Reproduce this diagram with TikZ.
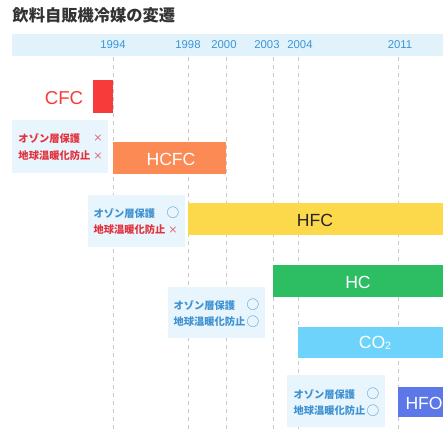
\documentclass[tikz,border=0pt]{standalone}
\usepackage{fontspec}
\setmainfont{Liberation Sans}
\newfontfamily\jpfont{Noto Sans CJK JP}

\definecolor{bandblue}{HTML}{E2F2FB}
\definecolor{boxblue}{HTML}{E8F5FC}
\definecolor{yearblue}{HTML}{3A96D6}
\definecolor{gridgray}{HTML}{C8C8C8}
\definecolor{badred}{HTML}{E2323E}
\definecolor{okblue}{HTML}{3F92D2}
\definecolor{cfcred}{HTML}{F73A3A}
\definecolor{hcfcorange}{HTML}{FB8A55}
\definecolor{hfcyellow}{HTML}{FCD84B}
\definecolor{hcgreen}{HTML}{2DBD63}
\definecolor{cotwoblue}{HTML}{6DD3FA}
\definecolor{hfoblue}{HTML}{5B77E8}

\tikzset{every picture/.style={line width=0.75pt}}
\tikzset{
  yearlabel/.style={text=yearblue, font=\fontsize{8.5}{10}\selectfont},
  gridline/.style={gridgray, dash pattern={on 3pt off 3pt}, line width=0.5pt},
  barlabel/.style={text=white, font=\fontsize{13.2}{15}\selectfont},
  infotext/.style={anchor=west, inner sep=0pt, font=\jpfont\bfseries\fontsize{7.7}{9}\selectfont},
  infomark/.style={inner sep=0pt, font=\jpfont\fontsize{7}{9}\selectfont},
  okmark/.style={inner sep=0pt, font=\jpfont\fontsize{9.5}{10}\selectfont},
}

\begin{document}
\begin{tikzpicture}[x=0.75pt,y=0.75pt,yscale=-1]
	\useasboundingbox (0,0) rectangle (443,430);

	% Title
	\draw (12,15) node [anchor=west, inner sep=0pt, text=black!80, font=\jpfont\bfseries\fontsize{12.2}{14}\selectfont] (title) {飲料自販機冷媒の変遷};

	%Shape: Rectangle [id:band] 
	\fill [bandblue] (12,34) rectangle (443,56);

	%Straight Lines [id:grid] 
	\foreach \gx in {113,188,226,273,298,398}
		\draw [gridline] (\gx,57) -- (\gx,430);

	% Text Node
	\draw (113,45) node [yearlabel] (y1994) {1994};
	% Text Node
	\draw (188,45) node [yearlabel] (y1998) {1998};
	% Text Node
	\draw (224,45) node [yearlabel] (y2000) {2000};
	% Text Node
	\draw (267,45) node [yearlabel] (y2003) {2003};
	% Text Node
	\draw (300,45) node [yearlabel] (y2004) {2004};
	% Text Node
	\draw (400,45) node [yearlabel] (y2011) {2011};

	%Shape: Rectangle [id:cfc] 
	\fill [cfcred] (93,80) rectangle (113,113);
	% Text Node
	\draw (64,98) node [text=cfcred, font=\fontsize{14}{16}\selectfont] (cfc) {CFC};

	%Shape: Rectangle [id:hcfc] 
	\fill [hcfcorange] (113,142) rectangle (226,174);
	% Text Node
	\draw (171,159) node [barlabel] (hcfc) {HCFC};

	%Shape: Rectangle [id:hfc] 
	\fill [hfcyellow] (188,203) rectangle (443,235);
	% Text Node
	\draw (315,220) node [barlabel, text=black!85] (hfc) {HFC};

	%Shape: Rectangle [id:hc] 
	\fill [hcgreen] (273,265) rectangle (443,297);
	% Text Node
	\draw (358,282) node [barlabel] (hc) {HC};

	%Shape: Rectangle [id:cotwo] 
	\fill [cotwoblue] (298,327) rectangle (443,358);
	% Text Node
	\draw (375,343) node [barlabel] (cotwo) {CO{\fontsize{8}{9}\selectfont\raisebox{-0.25ex}{2}}};

	%Shape: Rectangle [id:hfo] 
	\fill [hfoblue] (398,387) rectangle (443,417);
	% Text Node
	\draw (405,403) node [barlabel, anchor=west, inner sep=0pt] (hfo) {HFO};

	%Shape: Rectangle [id:box1] 
	\fill [boxblue] (12,120) rectangle (108,173);
	% Text Node
	\draw (18,138) node [infotext, text=badred] (ozoneA) {オゾン層保護};
	\draw (98,138) node [infomark, text=badred] (ozoneAmark) {×};
	% Text Node
	\draw (18,156) node [infotext, text=badred] (warmA) {地球温暖化防止};
	\draw (98,156) node [infomark, text=badred] (warmAmark) {×};

	%Shape: Rectangle [id:box2] 
	\fill [boxblue] (88,195) rectangle (185,247);
	% Text Node
	\draw (93,213) node [infotext, text=okblue] (ozoneB) {オゾン層保護};
	\draw (173,213) node [okmark, text=okblue] (ozoneBmark) {○};
	% Text Node
	\draw (93,230) node [infotext, text=badred] (warmB) {地球温暖化防止};
	\draw (173,230) node [infomark, text=badred] (warmBmark) {×};

	%Shape: Rectangle [id:box3] 
	\fill [boxblue] (168,287) rectangle (265,338);
	% Text Node
	\draw (173,305) node [infotext, text=okblue] (ozoneC) {オゾン層保護};
	\draw (253,305) node [okmark, text=okblue] (ozoneCmark) {○};
	% Text Node
	\draw (173,322) node [infotext, text=okblue] (warmC) {地球温暖化防止};
	\draw (253,322) node [okmark, text=okblue] (warmCmark) {○};

	%Shape: Rectangle [id:box4] 
	\fill [boxblue] (287,375) rectangle (385,427);
	% Text Node
	\draw (293,394) node [infotext, text=okblue] (ozoneD) {オゾン層保護};
	\draw (373,394) node [okmark, text=okblue] (ozoneDmark) {○};
	% Text Node
	\draw (293,411) node [infotext, text=okblue] (warmD) {地球温暖化防止};
	\draw (373,411) node [okmark, text=okblue] (warmDmark) {○};

\end{tikzpicture}
\end{document}
